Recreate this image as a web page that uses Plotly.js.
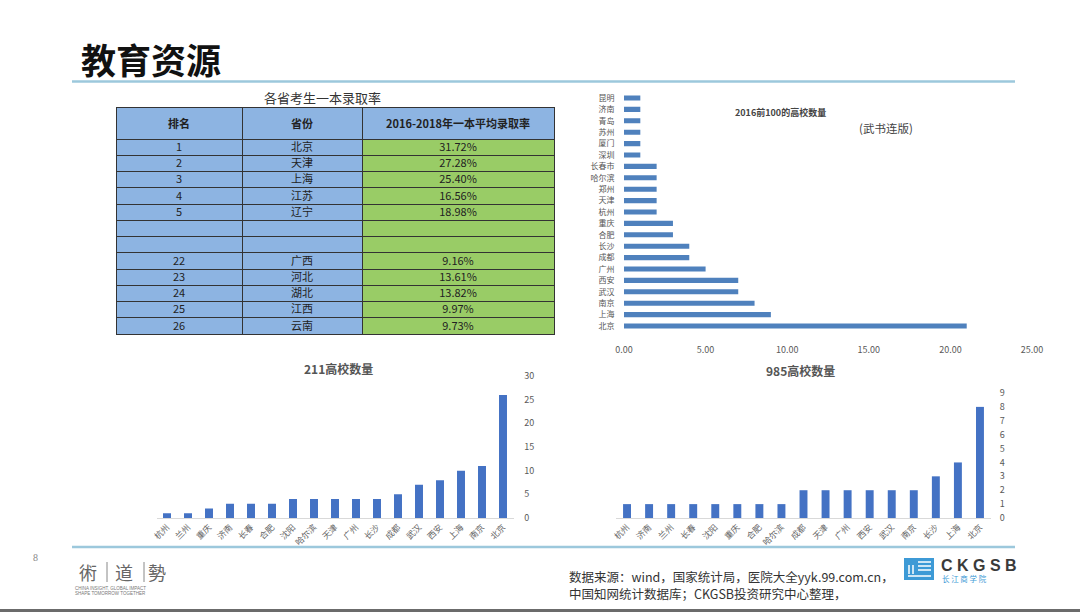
<!DOCTYPE html>
<html>
<head>
<meta charset="utf-8">
<script src="https://cdn.plot.ly/plotly-3.0.1.min.js"></script>
<style>html,body{margin:0;padding:0;background:#fff;}#chart{width:1080px;height:612px;}</style>
</head>
<body>
<div id="chart"></div>
<script>
// ---------- data ----------
const tableRanks = ['1','2','3','4','5','','','22','23','24','25','26'];
const tableProvinces = ['北京','天津','上海','江苏','辽宁','','','广西','河北','湖北','江西','云南'];
const tableRates = ['31.72%','27.28%','25.40%','16.56%','18.98%','','','9.16%','13.61%','13.82%','9.97%','9.73%'];
const tableHeader = ['排名','省份','2016-2018年一本平均录取率'];

const top100Cities = ['北京','上海','南京','武汉','西安','广州','成都','长沙','合肥','重庆','杭州','天津','郑州','哈尔滨','长春市','深圳','厦门','苏州','青岛','济南','昆明'];
const top100Counts = [21,9,8,7,7,5,4,4,3,3,2,2,2,2,2,1,1,1,1,1,1];

const c211Cities = ['杭州','兰州','重庆','济南','长春','合肥','沈阳','哈尔滨','天津','广州','长沙','成都','武汉','西安','上海','南京','北京'];
const c211Counts = [1,1,2,3,3,3,4,4,4,4,4,5,7,8,10,11,26];

const c985Cities = ['杭州','济南','兰州','长春','沈阳','重庆','合肥','哈尔滨','成都','天津','广州','西安','武汉','南京','长沙','上海','北京'];
const c985Counts = [1,1,1,1,1,1,1,1,2,2,2,2,2,2,3,4,8];

// ---------- helpers ----------
const W = 1080, H = 612;
const px = x => x / W;
const py = y => 1 - y / H;
const CJK = '"Noto Sans CJK SC", "Noto Sans", sans-serif';

const traces = [
  {
    type: 'table',
    domain: {x: [px(116), px(554)], y: [py(350), py(107)]},
    columnwidth: [126, 120, 192],
    header: {
      values: tableHeader.map(h => '<b>' + h + '</b>'),
      align: 'center',
      height: 32,
      fill: {color: '#8db4e2'},
      line: {color: '#333', width: 1},
      font: {family: CJK, size: 11, color: '#222'}
    },
    cells: {
      values: [tableRanks, tableProvinces, tableRates],
      align: 'center',
      height: 16.25,
      fill: {color: ['#8db4e2', '#8db4e2', '#99cc66']},
      line: {color: '#333', width: 1},
      font: {family: CJK, size: 11, color: '#222'}
    }
  },
  {
    type: 'bar', orientation: 'h',
    x: top100Counts, y: top100Cities,
    xaxis: 'x', yaxis: 'y',
    width: 0.45,
    marker: {color: '#4f81bd'}
  },
  {
    type: 'bar',
    x: c211Cities, y: c211Counts,
    xaxis: 'x2', yaxis: 'y2',
    width: 0.38,
    marker: {color: '#4472c4'}
  },
  {
    type: 'bar',
    x: c985Cities, y: c985Counts,
    xaxis: 'x3', yaxis: 'y3',
    width: 0.36,
    marker: {color: '#4472c4'}
  }
];

const tickFont = {family: CJK, size: 9, color: '#595959'};

const layout = {
  width: W, height: H,
  margin: {l: 0, r: 0, t: 0, b: 0},
  paper_bgcolor: '#ffffff',
  plot_bgcolor: 'rgba(0,0,0,0)',
  showlegend: false,
  font: {family: CJK},
  xaxis: {
    domain: [px(624), px(1032)], anchor: 'y',
    range: [0, 25], dtick: 5, tickformat: '.2f',
    showgrid: false, zeroline: false, showline: false,
    ticks: 'outside', ticklen: 9, tickcolor: 'rgba(0,0,0,0)',
    tickfont: tickFont, fixedrange: true
  },
  yaxis: {
    domain: [py(331.7), py(92.3)], anchor: 'x',
    type: 'category',
    showgrid: false, zeroline: false, showline: false,
    ticks: 'outside', ticklen: 7, tickcolor: 'rgba(0,0,0,0)',
    tickfont: {family: CJK, size: 8, color: '#555'}, fixedrange: true
  },
  xaxis2: {
    domain: [px(156.5), px(513.5)], anchor: 'y2',
    type: 'category', tickangle: -45,
    showgrid: false, zeroline: false,
    showline: true, linecolor: '#d9d9d9', linewidth: 1,
    ticks: '', tickfont: {family: CJK, size: 8.5, color: '#666'}, fixedrange: true
  },
  yaxis2: {
    domain: [py(518), py(376)], anchor: 'x2', side: 'right',
    range: [0, 30], dtick: 5,
    showgrid: false, zeroline: false, showline: false,
    ticks: 'outside', ticklen: 8, tickcolor: 'rgba(0,0,0,0)',
    tickfont: tickFont, fixedrange: true
  },
  xaxis3: {
    domain: [px(616), px(991)], anchor: 'y3',
    type: 'category', tickangle: -45,
    showgrid: false, zeroline: false,
    showline: true, linecolor: '#d9d9d9', linewidth: 1,
    ticks: '', tickfont: {family: CJK, size: 8.5, color: '#666'}, fixedrange: true
  },
  yaxis3: {
    domain: [py(518), py(393)], anchor: 'x3', side: 'right',
    range: [0, 9], dtick: 1,
    showgrid: false, zeroline: false, showline: false,
    ticks: 'outside', ticklen: 6, tickcolor: 'rgba(0,0,0,0)',
    tickfont: tickFont, fixedrange: true
  },
  shapes: [
    {type: 'line', xref: 'paper', yref: 'paper', x0: px(72), x1: px(1015), y0: py(81.5), y1: py(81.5), line: {color: '#9cc8dc', width: 2.5}},
    {type: 'line', xref: 'paper', yref: 'paper', x0: px(72), x1: px(1015), y0: py(547), y1: py(547), line: {color: '#9cc8dc', width: 2.5}},
    {type: 'rect', xref: 'paper', yref: 'paper', x0: 0, x1: 1, y0: py(612), y1: py(609), line: {width: 0}, fillcolor: '#6b6b6b'},
    // logo separators
    {type: 'line', xref: 'paper', yref: 'paper', x0: px(107), x1: px(107), y0: py(582), y1: py(562), line: {color: '#888', width: 1}},
    {type: 'line', xref: 'paper', yref: 'paper', x0: px(144), x1: px(144), y0: py(582), y1: py(562), line: {color: '#888', width: 1}},
    // CKGSB icon
    {type: 'rect', xref: 'paper', yref: 'paper', x0: px(904), x1: px(934), y0: py(580), y1: py(558), line: {width: 0}, fillcolor: '#3d9ad6'},
    {type: 'line', xref: 'paper', yref: 'paper', x0: px(918), x1: px(931), y0: py(562), y1: py(562), line: {color: '#fff', width: 1.5}},
    {type: 'line', xref: 'paper', yref: 'paper', x0: px(918), x1: px(931), y0: py(566), y1: py(566), line: {color: '#fff', width: 1.5}},
    {type: 'line', xref: 'paper', yref: 'paper', x0: px(918), x1: px(931), y0: py(570), y1: py(570), line: {color: '#fff', width: 1.5}},
    {type: 'line', xref: 'paper', yref: 'paper', x0: px(908), x1: px(931), y0: py(576), y1: py(576), line: {color: '#fff', width: 1.5}},
    {type: 'line', xref: 'paper', yref: 'paper', x0: px(909), x1: px(909), y0: py(574), y1: py(565), line: {color: '#fff', width: 1.5}},
    {type: 'line', xref: 'paper', yref: 'paper', x0: px(913), x1: px(913), y0: py(574), y1: py(565), line: {color: '#fff', width: 1.5}}
  ],
  annotations: [
    {text: '<b>教育资源</b>', x: px(79), y: py(58), xref: 'paper', yref: 'paper', xanchor: 'left', yanchor: 'middle', showarrow: false, font: {family: CJK, size: 35, color: '#111'}},
    {text: '各省考生一本录取率', x: px(322), y: py(97), xref: 'paper', yref: 'paper', xanchor: 'center', yanchor: 'middle', showarrow: false, font: {family: CJK, size: 13, color: '#333'}},
    {text: '<b>2016前100的高校数量</b>', x: px(780), y: py(112), xref: 'paper', yref: 'paper', xanchor: 'center', yanchor: 'middle', showarrow: false, font: {family: CJK, size: 9, color: '#444'}},
    {text: '(武书连版)', x: px(886), y: py(128), xref: 'paper', yref: 'paper', xanchor: 'center', yanchor: 'middle', showarrow: false, font: {family: CJK, size: 11.5, color: '#444'}},
    {text: '<b>211高校数量</b>', x: px(338), y: py(368), xref: 'paper', yref: 'paper', xanchor: 'center', yanchor: 'middle', showarrow: false, font: {family: CJK, size: 12, color: '#555'}},
    {text: '<b>985高校数量</b>', x: px(800), y: py(370), xref: 'paper', yref: 'paper', xanchor: 'center', yanchor: 'middle', showarrow: false, font: {family: CJK, size: 12, color: '#555'}},
    {text: '8', x: px(35), y: py(557), xref: 'paper', yref: 'paper', xanchor: 'center', yanchor: 'middle', showarrow: false, font: {family: 'Liberation Serif', size: 10, color: '#888'}},
    {text: '術', x: px(88), y: py(572), xref: 'paper', yref: 'paper', xanchor: 'center', yanchor: 'middle', showarrow: false, font: {family: CJK, size: 18, color: '#666'}},
    {text: '道', x: px(124), y: py(572), xref: 'paper', yref: 'paper', xanchor: 'center', yanchor: 'middle', showarrow: false, font: {family: CJK, size: 18, color: '#666'}},
    {text: '勢', x: px(157), y: py(572), xref: 'paper', yref: 'paper', xanchor: 'center', yanchor: 'middle', showarrow: false, font: {family: CJK, size: 18, color: '#666'}},
    {text: 'CHINA INSIGHT, GLOBAL IMPACT', x: px(73), y: py(588), xref: 'paper', yref: 'paper', xanchor: 'left', yanchor: 'middle', showarrow: false, font: {family: 'Liberation Sans', size: 4.5, color: '#777'}},
    {text: 'SHAPE TOMORROW TOGETHER', x: px(73), y: py(593), xref: 'paper', yref: 'paper', xanchor: 'left', yanchor: 'middle', showarrow: false, font: {family: 'Liberation Sans', size: 4.5, color: '#777'}},
    {text: '数据来源：wind，国家统计局，医院大全yyk.99.com.cn，', x: px(567), y: py(576), xref: 'paper', yref: 'paper', xanchor: 'left', yanchor: 'middle', showarrow: false, font: {family: CJK, size: 12.5, color: '#333'}},
    {text: '中国知网统计数据库；CKGSB投资研究中心整理，', x: px(567), y: py(593), xref: 'paper', yref: 'paper', xanchor: 'left', yanchor: 'middle', showarrow: false, font: {family: CJK, size: 12.5, color: '#333'}},
    {text: '<b>C K G S B</b>', x: px(939), y: py(565), xref: 'paper', yref: 'paper', xanchor: 'left', yanchor: 'middle', showarrow: false, font: {family: 'Liberation Sans', size: 16, color: '#3a3a3a'}},
    {text: '长 江 商 学 院', x: px(940), y: py(578), xref: 'paper', yref: 'paper', xanchor: 'left', yanchor: 'middle', showarrow: false, font: {family: CJK, size: 7.5, color: '#3d9ad6'}}
  ]
};

function centerTableText() {
  // Plotly tables top-align cell text with a fixed 8px pad; nudge body rows to be vertically centred
  document.querySelectorAll('#chart .table .column-cell').forEach(cell => {
    const rect = cell.querySelector('.cell-rect');
    const holder = cell.querySelector('.cell-text-holder');
    if (!rect || !holder) return;
    const h = parseFloat(rect.getAttribute('height'));
    if (!(h < 20)) return;
    if (holder.dataset.shifted) return;
    const t = holder.getAttribute('transform') || '';
    const m = t.match(/translate\(\s*([-\d.e]+)[ ,]+([-\d.e]+)\s*\)/);
    if (!m) return;
    holder.setAttribute('transform', 'translate(' + m[1] + ',' + (parseFloat(m[2]) - 4.5) + ')');
    holder.dataset.shifted = '1';
  });
}

Plotly.newPlot('chart', traces, layout, {displayModeBar: false, staticPlot: true}).then(() => {
  centerTableText();
  setTimeout(centerTableText, 50);
});
</script>
</body>
</html>
